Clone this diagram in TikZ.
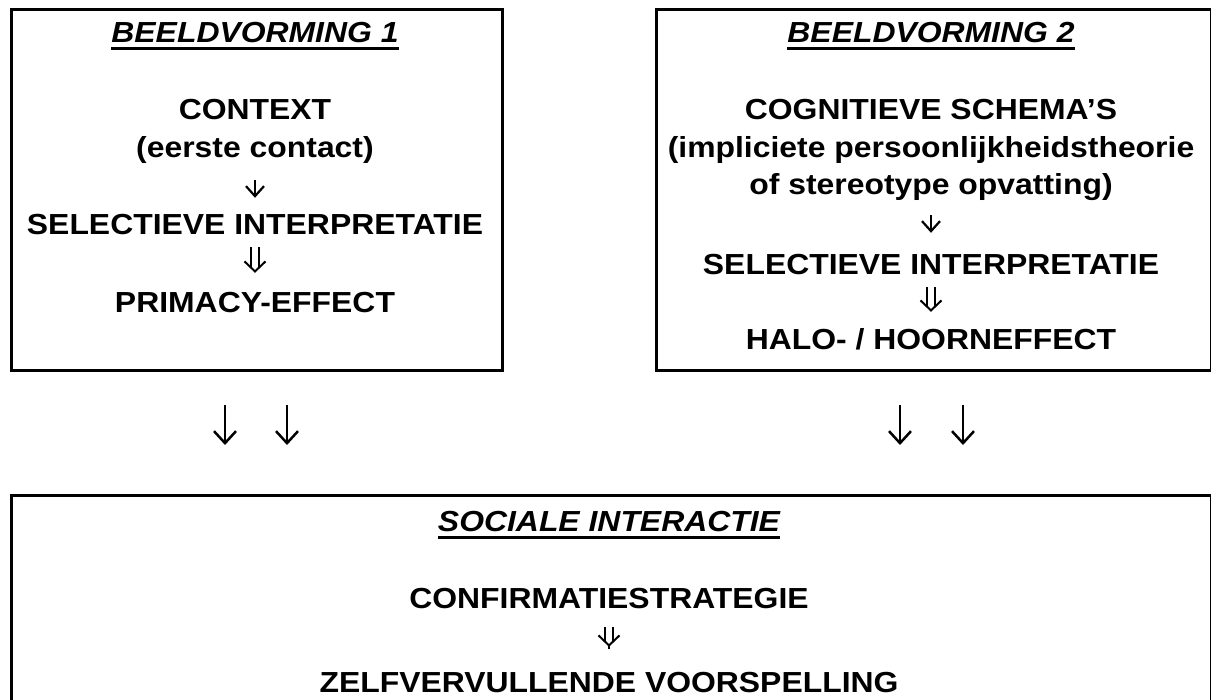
\documentclass[tikz,border=0pt]{standalone}
\usepackage{fontspec}
\setmainfont{Liberation Sans}
\usetikzlibrary{arrows.meta}
\newcommand{\wide}[1]{\scalebox{1.10}[1]{#1}}
\begin{document}
\begin{tikzpicture}[x=1pt,y=-1pt,
  txt/.style={font=\bfseries\fontsize{29}{34}\selectfont, inner sep=0pt, text height=21pt, text depth=7pt, anchor=base},
  ttl/.style={font=\bfseries\itshape\fontsize{29}{34}\selectfont, inner sep=0pt, text height=21pt, text depth=7pt, anchor=base},
  box/.style={draw, line width=3pt, inner sep=0pt, anchor=north west},
  uline/.style={line width=2.5pt},
  sarr/.style={line width=2.2pt, -{Straight Barb[length=10pt,width=18pt]}},
  barr/.style={line width=2.5pt, -{Straight Barb[length=12pt,width=22pt]}},
  dshaft/.style={double, double distance=6pt, line width=2pt},
  dhead/.style={line width=2pt, -{Straight Barb[length=10pt,width=21pt]}}
]
\useasboundingbox (0,0) rectangle (1211,700);
\clip (0,0) rectangle (1211,700);
\fill[white] (0,0) rectangle (1211,700);

% boxes
\node[box, minimum width=491pt, minimum height=361.5pt] (b1) at (9.5,8) {};
\node[box, minimum width=555pt, minimum height=361.5pt] (b2) at (654.5,8) {};
\node[box, minimum width=1199.5pt, minimum height=240pt] (b3) at (10,494) {};

% box 1
\node[ttl] (t1) at (255,43) {\wide{BEELDVORMING 1}};
\draw[uline] ([yshift=-5.5pt]t1.base west) -- ([yshift=-5.5pt]t1.base east);
\node[txt] (ctx1) at (255,120) {\wide{CONTEXT}};
\node[txt] (ec1) at (255,158) {\wide{(eerste contact)}};
\node[txt] (sel1) at (255,235) {\wide{SELECTIEVE INTERPRETATIE}};
\node[txt] (prim1) at (255,313) {\wide{PRIMACY-EFFECT}};
\draw[sarr, shorten <=15pt, shorten >=16pt] (ec1) -- (sel1);
\draw[dshaft, shorten <=5pt, shorten >=24pt] (sel1) -- (prim1);
\draw[dhead, shorten <=30pt, shorten >=19pt] (sel1) -- (prim1);

% box 2
\node[ttl] (t2) at (931,43) {\wide{BEELDVORMING 2}};
\draw[uline] ([yshift=-5.5pt]t2.base west) -- ([yshift=-5.5pt]t2.base east);
\node[txt] (cog) at (931,120) {\wide{COGNITIEVE SCHEMA’S}};
\node[txt] (imp) at (931,158) {\wide{(impliciete persoonlijkheidstheorie}};
\node[txt] (of) at (931,195) {\wide{of stereotype opvatting)}};
\node[txt] (sel2) at (931,275) {\wide{SELECTIEVE INTERPRETATIE}};
\node[txt] (halo) at (931,350) {\wide{HALO- / HOORNEFFECT}};
\draw[sarr, shorten <=13pt, shorten >=21pt] (of) -- (sel2);
\draw[dshaft, shorten <=5pt, shorten >=22pt] (sel2) -- (halo);
\draw[dhead, shorten <=29pt, shorten >=17pt] (sel2) -- (halo);

% between arrows
\coordinate (la1) at (225,405); \coordinate (lb1) at (225,445);
\coordinate (la2) at (287,405); \coordinate (lb2) at (287,445);
\coordinate (ra1) at (900,405); \coordinate (rb1) at (900,445);
\coordinate (ra2) at (963,405); \coordinate (rb2) at (963,445);
\draw[barr] (la1) -- (lb1);
\draw[barr] (la2) -- (lb2);
\draw[barr] (ra1) -- (rb1);
\draw[barr] (ra2) -- (rb2);

% bottom box
\node[ttl] (t3) at (609,532) {\wide{SOCIALE INTERACTIE}};
\draw[uline] ([yshift=-5.5pt]t3.base west) -- ([yshift=-5.5pt]t3.base east);
\node[txt] (conf) at (609,608) {\wide{CONFIRMATIESTRATEGIE}};
\node[txt] (zelf) at (609,692) {\wide{ZELFVERVULLENDE VOORSPELLING}};
\draw[dshaft, shorten <=12pt, shorten >=29pt] (conf) -- (zelf);
\draw[dhead, shorten <=34pt, shorten >=24pt] (conf) -- (zelf);
\end{tikzpicture}
\end{document}
